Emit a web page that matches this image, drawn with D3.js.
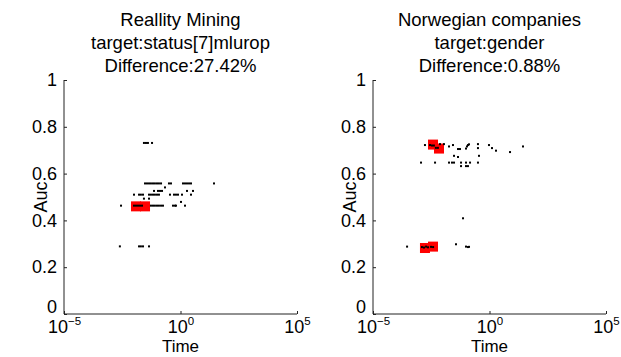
<!DOCTYPE html>
<html>
<head>
<meta charset="utf-8">
<script src="https://cdn.jsdelivr.net/npm/d3@7"></script>
<style>
  body { margin: 0; background: #fff; }
  svg { display: block; font-family: "Liberation Sans", Arial, sans-serif; }
</style>
</head>
<body>
<div id="chart"></div>
<script>
// Chart size
const width = 621;
const height = 357;

// Axis ticks
const xTicks = [1e-5, 1, 1e5];
const yTicks = [0, 0.2, 0.4, 0.6, 0.8, 1];

// Panel titles
const leftTitle = ["Reallity Mining", "target:status[7]mlurop", "Difference:27.42%"];
const rightTitle = ["Norwegian companies", "target:gender", "Difference:0.88%"];

// Reality Mining: all runs (time, auc)
const realityTime = [
    0.027, 0.033, 0.040, 0.060,
    0.030, 0.0365, 0.0445, 0.054, 0.066, 0.080, 0.098, 0.119, 0.146, 0.32, 0.39, 1.28, 1.56, 1.90, 2.32, 2.82, 27.4,
    0.216,
    0.073, 0.108, 0.132, 0.161, 1.90, 3.44,
    0.0101, 0.0166, 0.020, 0.0246, 0.0445, 0.054, 0.066, 0.080, 0.098, 0.119, 0.354, 0.526, 0.64, 0.78, 1.16, 2.82,
    0.027, 0.0445,
    1.05,
    0.0028, 0.0101, 0.0123, 0.015, 0.0183, 0.0223, 0.054, 0.066, 0.080, 0.098, 0.119, 0.146, 0.177, 0.476, 0.58, 0.64, 1.56,
    0.0025, 0.0166, 0.020, 0.0246, 0.0445
];
const realityAuc = [
    0.731, 0.731, 0.731, 0.731,
    0.558, 0.558, 0.558, 0.558, 0.558, 0.558, 0.558, 0.558, 0.558, 0.558, 0.558, 0.558, 0.558, 0.558, 0.558, 0.558, 0.558,
    0.541,
    0.526, 0.526, 0.526, 0.526, 0.526, 0.526,
    0.51, 0.51, 0.51, 0.51, 0.51, 0.51, 0.51, 0.51, 0.51, 0.51, 0.51, 0.51, 0.51, 0.51, 0.51, 0.51,
    0.493, 0.493,
    0.479,
    0.463, 0.463, 0.463, 0.463, 0.463, 0.463, 0.463, 0.463, 0.463, 0.463, 0.463, 0.463, 0.463, 0.463, 0.463, 0.463, 0.463,
    0.289, 0.289, 0.289, 0.289, 0.289
];
// Reality Mining: highlighted runs
const realityBestTime = [0.0123, 0.030];
const realityBestAuc = [0.46, 0.46];

// Norwegian companies: all runs (time, auc)
const norwegianTime = [
    0.0017, 0.0028, 0.0034, 0.0041, 0.0050, 0.0061, 0.0075, 0.0111, 0.0183, 0.0271, 0.0445, 0.054, 0.098,
    0.108, 0.119, 0.132, 0.32, 0.32, 0.95, 1.28, 1.90, 7.6, 27.4,
    0.00115, 0.0046, 0.0183, 0.0246, 0.030, 0.060, 0.098, 0.146, 0.32,
    0.030, 0.0445, 0.354, 0.060, 0.098, 0.119,
    0.073,
    0.00029, 0.00126, 0.00154, 0.0019, 0.0023, 0.0031, 0.0038, 0.0365, 0.098, 0.119, 0.132
];
const norwegianAuc = [
    0.722, 0.722, 0.72, 0.72, 0.71, 0.71, 0.726, 0.726, 0.716, 0.722, 0.705, 0.705, 0.707,
    0.716, 0.722, 0.725, 0.726, 0.709, 0.722, 0.709, 0.698, 0.692, 0.716,
    0.647, 0.647, 0.647, 0.647, 0.647, 0.647, 0.647, 0.647, 0.647,
    0.676, 0.671, 0.676, 0.632, 0.632, 0.632,
    0.409,
    0.288, 0.286, 0.284, 0.288, 0.285, 0.287, 0.286, 0.298, 0.288, 0.286, 0.287
];
// Norwegian companies: highlighted runs
const norwegianBestTime = [0.00376, 0.0068, 0.0017, 0.00376];
const norwegianBestAuc = [0.724, 0.707, 0.282, 0.288];

const panels = [
    {left: 64, title: leftTitle, time: realityTime, auc: realityAuc, bestTime: realityBestTime, bestAuc: realityBestAuc},
    {left: 373, title: rightTitle, time: norwegianTime, auc: norwegianAuc, bestTime: norwegianBestTime, bestAuc: norwegianBestAuc}
];

const plotW = 233;
const plotTop = 80;
const plotBottom = 314;
const fontFamily = "Liberation Sans, Arial, sans-serif";

const svg = d3.create("svg")
    .attr("width", width)
    .attr("height", height);

svg.append("rect").attr("width", width).attr("height", height).attr("fill", "#fff");

const sup = {"-5": "\u22125", "0": "0", "5": "5"};

panels.forEach(p => {
    const x = d3.scaleLog().domain([1e-5, 1e5]).range([p.left, p.left + plotW]);
    const y = d3.scaleLinear().domain([0, 1]).range([plotBottom, plotTop]);
    const g = svg.append("g");

    // Title, three centered lines
    g.append("text")
        .attr("text-anchor", "middle")
        .attr("font-size", 18.5)
        .attr("fill", "#000")
        .selectAll("tspan")
        .data(p.title)
        .join("tspan")
        .attr("x", p.left + plotW / 2)
        .attr("y", (d, i) => 26 + i * 23)
        .text(d => d);

    // Y axis with inward ticks
    const yAxis = g.append("g")
        .attr("transform", `translate(${p.left},0)`)
        .call(d3.axisLeft(y).tickValues(yTicks).tickSize(-3).tickPadding(7).tickFormat(d => String(d)));
    yAxis.select(".domain").attr("stroke", "#222").attr("d", `M0,${plotTop}V${plotBottom}`);
    yAxis.selectAll(".tick line").attr("stroke", "#222");
    yAxis.selectAll(".tick text")
        .attr("font-size", 18)
        .attr("font-family", fontFamily)
        .attr("fill", "#000");
    // lift the "0" a little so it clears the 10^-5 label below
    yAxis.selectAll(".tick").filter(d => d === 0).select("text").attr("dy", "-0.1em");

    // X axis with inward ticks and power-of-ten labels
    const xAxis = g.append("g")
        .attr("transform", `translate(0,${plotBottom})`)
        .call(d3.axisBottom(x).tickValues(xTicks).tickSize(-3).tickFormat(""));
    xAxis.select(".domain").attr("stroke", "#222").attr("d", `M${p.left},0H${p.left + plotW}`);
    xAxis.selectAll(".tick line").attr("stroke", "#222");
    xAxis.selectAll(".tick").each(function(d) {
        const e = Math.round(Math.log10(d));
        const t = d3.select(this).append("text")
            .attr("y", 19)
            .attr("fill", "#000")
            .attr("font-size", 18)
            .attr("font-family", fontFamily)
            .attr("text-anchor", "middle");
        t.append("tspan").text("10");
        t.append("tspan").attr("dy", -8).attr("font-size", 11.5).text(sup[String(e)]);
    });

    // Axis titles
    g.append("text")
        .attr("x", p.left + plotW / 2)
        .attr("y", 352)
        .attr("text-anchor", "middle")
        .attr("font-size", 17)
        .text("Time");
    g.append("text")
        .attr("transform", `translate(${p.left - 17},${(plotTop + plotBottom) / 2}) rotate(-90)`)
        .attr("text-anchor", "middle")
        .attr("font-size", 18)
        .text("Auc");

    // Highlighted runs as red squares
    g.append("g")
        .selectAll("rect")
        .data(p.bestTime.map((t, i) => ({t, a: p.bestAuc[i]})))
        .join("rect")
        .attr("x", d => x(d.t) - 5)
        .attr("y", d => y(d.a) - 5)
        .attr("width", 10)
        .attr("height", 10)
        .attr("fill", "#f00");

    // All runs as small dots
    g.append("g")
        .selectAll("rect")
        .data(p.time.map((t, i) => ({t, a: p.auc[i]})))
        .join("rect")
        .attr("x", d => x(d.t) - 1)
        .attr("y", d => y(d.a) - 1)
        .attr("width", 2)
        .attr("height", 2)
        .attr("fill", "#000");
});

d3.select("#chart").node().appendChild(svg.node());
</script>
</body>
</html>
